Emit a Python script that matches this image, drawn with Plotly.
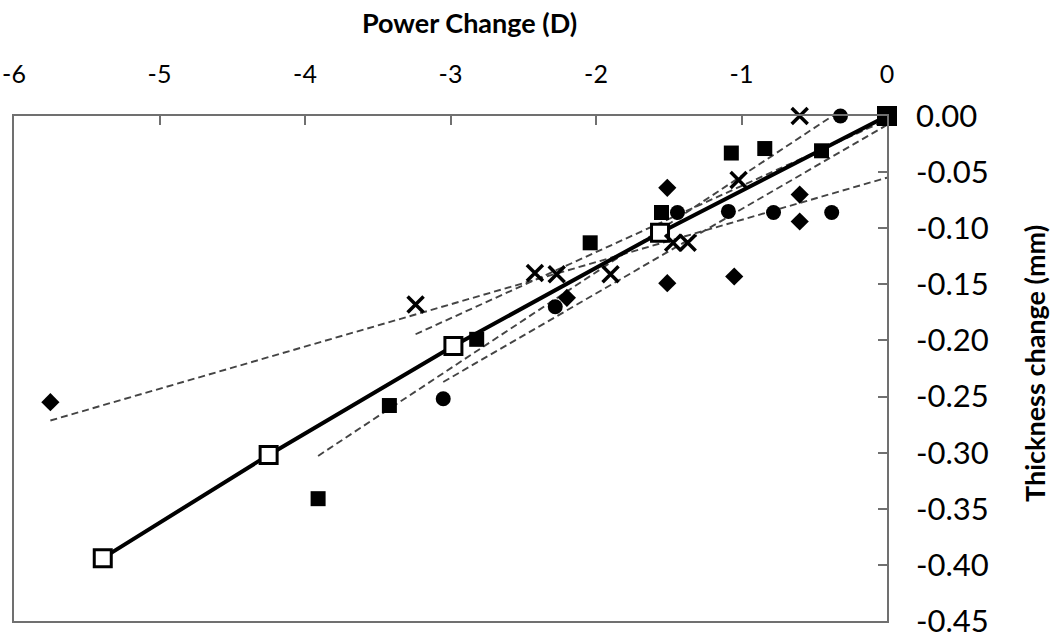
import numpy as np
import plotly.graph_objects as go

# ---- data ----
diamond_x = [0.0, -0.60, -0.60, -1.05, -1.51, -1.51, -2.20, -5.75]
diamond_y = [0.0, -0.070, -0.094, -0.143, -0.064, -0.149, -0.162, -0.255]

circle_x = [0.0, -0.32, -0.38, -0.78, -1.09, -1.44, -2.28, -3.05]
circle_y = [0.0, 0.0, -0.086, -0.086, -0.085, -0.086, -0.170, -0.252]

square_x = [0.0, -0.45, -0.84, -1.07, -1.55, -2.04, -2.82, -3.42, -3.91]
square_y = [0.0, -0.031, -0.029, -0.033, -0.086, -0.113, -0.199, -0.258, -0.341]

cross_x = [0.0, -0.60, -1.02, -1.37, -1.47, -1.90, -2.27, -2.42, -3.24]
cross_y = [0.0, 0.0, -0.057, -0.113, -0.113, -0.141, -0.141, -0.140, -0.168]

mean_x = [0.0, -1.56, -2.98, -4.25, -5.39]
mean_y = [0.0, -0.104, -0.205, -0.302, -0.394]

x_ticks = [-6, -5, -4, -3, -2, -1, 0]
y_ticks = [0.0, -0.05, -0.10, -0.15, -0.20, -0.25, -0.30, -0.35, -0.40, -0.45]

x_title = "Power Change (D)"
y_title = "Thickness change (mm)"

FONT = "Lato"
fig = go.Figure()

# linear trendlines (as in a spreadsheet), spanning each series' x range
for xs, ys in [(diamond_x, diamond_y), (circle_x, circle_y),
               (square_x, square_y), (cross_x, cross_y)]:
    m, b = np.polyfit(xs, ys, 1)
    xr = np.array([min(xs), max(xs)])
    fig.add_trace(go.Scatter(x=xr, y=m * xr + b, mode="lines",
                             line=dict(color="#444444", width=1.9, dash="7px,4px"),
                             showlegend=False, hoverinfo="skip"))

# mean line
fig.add_trace(go.Scatter(x=mean_x, y=mean_y, mode="lines+markers",
                         line=dict(color="black", width=4), cliponaxis=False,
                         marker=dict(symbol="square", size=17, color="white",
                                     line=dict(color="black", width=3)),
                         showlegend=False))

fig.add_trace(go.Scatter(x=diamond_x, y=diamond_y, mode="markers", cliponaxis=False,
                         marker=dict(symbol="diamond", size=14, color="black"),
                         showlegend=False))
fig.add_trace(go.Scatter(x=square_x, y=square_y, mode="markers", cliponaxis=False,
                         marker=dict(symbol="square", size=15, color="black"),
                         showlegend=False))
fig.add_trace(go.Scatter(x=circle_x, y=circle_y, mode="markers", cliponaxis=False,
                         marker=dict(symbol="circle", size=15, color="black"),
                         showlegend=False))
fig.add_trace(go.Scatter(x=cross_x, y=cross_y, mode="markers", cliponaxis=False,
                         marker=dict(symbol="x-thin", size=16, color="black",
                                     line=dict(color="black", width=3.5)),
                         showlegend=False))

fig.update_layout(
    width=1050, height=642,
    margin=dict(l=14, r=163, t=116, b=21, autoexpand=False),
    paper_bgcolor="white", plot_bgcolor="white",
    font=dict(family=FONT, color="black"),
    xaxis=dict(side="top", range=[-6, 0], tickvals=x_ticks,
               ticktext=[str(v) for v in x_ticks],
               ticks="inside", ticklen=9, tickcolor="#707070", tickwidth=1.5,
               showline=True, linecolor="#707070", linewidth=1.5, mirror=True,
               showgrid=False, zeroline=False, automargin=False,
               ticklabeloverflow="allow",
               tickfont=dict(size=25, family=FONT),
               ticklabelstandoff=21),
    yaxis=dict(side="right", range=[-0.45, 0], tickvals=y_ticks,
               ticktext=["%.2f" % v for v in y_ticks],
               ticks="inside", ticklen=9, tickcolor="#707070", tickwidth=1.5,
               showline=True, linecolor="#707070", linewidth=1.5, mirror=True,
               showgrid=False, zeroline=False, automargin=False,
               ticklabeloverflow="allow",
               tickfont=dict(size=31, family=FONT),
               ticklabelstandoff=21),
    annotations=[
        dict(text="<b>%s</b>" % x_title, xref="paper", yref="paper",
             x=0.522, y=1.186, xanchor="center", yanchor="middle",
             showarrow=False, font=dict(size=27, family=FONT)),
        dict(text="<b>%s</b>" % y_title, xref="paper", yref="paper",
             x=1.1696, y=0.509, xanchor="center", yanchor="middle", textangle=-90,
             showarrow=False, font=dict(size=27, family=FONT)),
    ],
)

# remove the browser's default page margin so the figure fills the window
fig.write_html("out.html", config={"displayModeBar": False},
               post_script="document.body.style.margin='0';document.body.style.overflow='hidden';")
